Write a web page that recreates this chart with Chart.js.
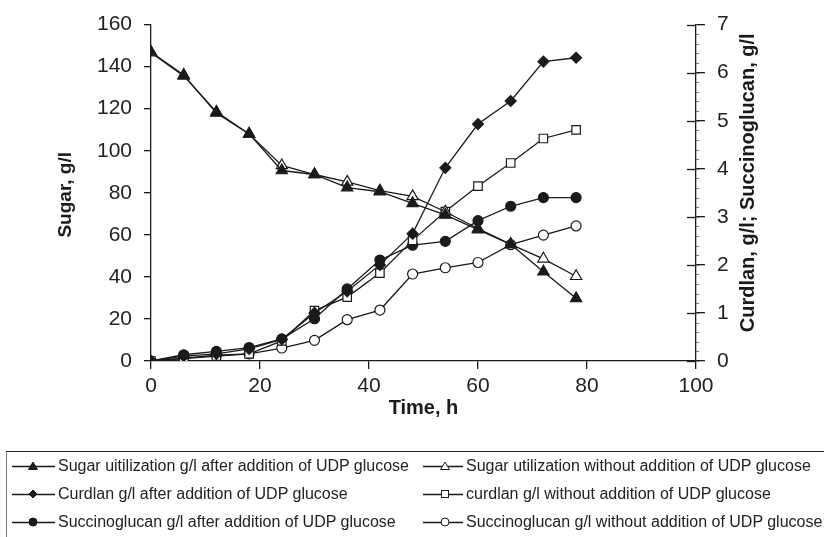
<!DOCTYPE html>
<html>
<head>
<meta charset="utf-8">
<script src="https://cdn.jsdelivr.net/npm/chart.js@4/dist/chart.umd.min.js"></script>
<style>
  html, body { margin: 0; padding: 0; background: #fff; overflow: hidden; }
  #wrap { position: relative; width: 824px; height: 537px; }
  #legend { position: absolute; left: 6px; top: 451px; width: 840px; height: 100px;
            border: 1px solid #777; border-top: 1.5px solid #222;
            font: 16px "Liberation Sans", Arial, sans-serif; color: #222; }
  .item { position: absolute; height: 20px; display: flex; align-items: center; white-space: nowrap; }
  .item svg { margin-right: 3px; }
</style>
</head>
<body>
<div id="wrap">
  <canvas id="myChart" width="824" height="537"></canvas>
  <div id="legend"></div>
</div>
<script>
// time points, h
var hours = [0, 6, 12, 18, 24, 30, 36, 42, 48, 54, 60, 66, 72, 78];

// left axis (sugar, g/l)
var sugarWithUdp    = [147, 136, 118, 108, 90.6, 88.7, 82.5, 80.5, 75, 69.5, 62.5, 55.5, 42.5, 29.8];
var sugarWithoutUdp = [146.6, 135.6, 118.5, 108, 93, 88.7, 85.2, 81, 78.3, 71, 63, 55.5, 48.6, 40.3];

// right axis (curdlan / succinoglucan, g/l)
var curdlanWithUdp    = [0, 0.1, 0.15, 0.25, 0.45, 1.0, 1.45, 2.0, 2.65, 4.02, 4.93, 5.41, 6.23, 6.31];
var curdlanWithoutUdp = [0, 0.05, 0.1, 0.15, 0.42, 1.05, 1.33, 1.83, 2.51, 3.11, 3.64, 4.12, 4.63, 4.81];
var succWithUdp       = [0, 0.13, 0.2, 0.28, 0.46, 0.88, 1.5, 2.1, 2.41, 2.49, 2.92, 3.22, 3.4, 3.4];
var succWithoutUdp    = [0, 0.06, 0.12, 0.15, 0.27, 0.43, 0.86, 1.06, 1.81, 1.94, 2.05, 2.42, 2.62, 2.81];

var xTicks = [0, 20, 40, 60, 80, 100];
var yTicks = [0, 20, 40, 60, 80, 100, 120, 140, 160];
var y2Ticks = [0, 1, 2, 3, 4, 5, 6, 7];

var xTitle = "Time, h";
var yTitle = "Sugar, g/l";
var y2Title = "Curdlan, g/l; Succinoglucan, g/l";

var ink = "#1a1a1a";
var fontFam = '"Liberation Sans", Arial, sans-serif';

function pts(vals) {
  return hours.map(function(h, i) { return { x: h, y: vals[i] }; });
}

function serie(label, vals, axis, style, filled, radius) {
  return {
    label: label,
    data: pts(vals),
    yAxisID: axis,
    borderColor: ink,
    borderWidth: 1.3,
    tension: 0,
    fill: false,
    pointStyle: style,
    pointRadius: radius,
    pointHoverRadius: radius,
    pointBackgroundColor: filled ? ink : "#fff",
    pointBorderColor: ink,
    pointBorderWidth: 1.2,
    _filled: filled
  };
}

var datasets = [
  serie("Sugar uitilization g/l after addition of UDP glucose", sugarWithUdp, "y", "triangle", true, 6.5),
  serie("Sugar utilization without addition of UDP glucose", sugarWithoutUdp, "y", "triangle", false, 6.5),
  serie("Curdlan g/l after addition of UDP glucose", curdlanWithUdp, "y2", "rectRot", true, 5.5),
  serie("curdlan g/l without addition of UDP glucose", curdlanWithoutUdp, "y2", "rect", false, 6),
  serie("Succinoglucan g/l after addition of UDP glucose", succWithUdp, "y2", "circle", true, 5),
  serie("Succinoglucan g/l without addition of UDP glucose", succWithoutUdp, "y2", "circle", false, 5)
];

function tickList(list) {
  return function(scale) {
    scale.ticks = list.map(function(v) { return { value: v }; });
  };
}

// titles + inner half of right ticks
var extras = {
  id: "extras",
  afterDraw: function(chart) {
    var ctx = chart.ctx, a = chart.chartArea, r = chart.scales.y2;
    ctx.save();
    ctx.strokeStyle = ink;
    ctx.lineWidth = 1.3;
    r.ticks.forEach(function(t) {
      var py = Math.round(r.getPixelForValue(t.value)) + 0.5;
      ctx.beginPath();
      ctx.moveTo(a.right - 9, py);
      ctx.lineTo(a.right, py);
      ctx.stroke();
    });
    // minor ticks on right axis
    ctx.lineWidth = 1;
    ctx.strokeStyle = "#777";
    for (var v = 0; v < 7; v += 0.2) {
      var my = Math.round(r.getPixelForValue(v)) + 0.5;
      ctx.beginPath();
      ctx.moveTo(a.right, my);
      ctx.lineTo(a.right + 3, my);
      ctx.stroke();
    }

    ctx.fillStyle = ink;
    ctx.textAlign = "center";
    ctx.textBaseline = "middle";
    ctx.font = "bold 19px " + fontFam;
    ctx.save();
    ctx.translate(66, (a.top + a.bottom) / 2 + 2);
    ctx.rotate(-Math.PI / 2);
    ctx.fillText(yTitle, 0, 0);
    ctx.restore();

    ctx.font = "bold 20px " + fontFam;
    ctx.save();
    ctx.translate(a.right + 52, (a.top + a.bottom) / 2 - 10);
    ctx.rotate(-Math.PI / 2);
    ctx.fillText(y2Title, 0, 0);
    ctx.restore();

    ctx.fillText(xTitle, (a.left + a.right) / 2, a.bottom + 47);
    ctx.restore();
  }
};

var axisGrid = function(len) {
  return { display: true, drawOnChartArea: false, drawTicks: true, tickLength: len, color: ink, lineWidth: 1.3 };
};
var tickFont = { family: fontFam, size: 21 };

var chart = new Chart(document.getElementById("myChart").getContext("2d"), {
  type: "line",
  data: { datasets: datasets },
  options: {
    responsive: false,
    animation: false,
    layout: { padding: { top: 19, left: 0, right: 0, bottom: 0 } },
    plugins: { legend: { display: false }, tooltip: { enabled: false } },
    scales: {
      x: {
        type: "linear", min: 0, max: 100,
        afterBuildTicks: tickList(xTicks),
        afterFit: function(s) { s.height = 176; },
        grid: axisGrid(8),
        border: { color: ink, width: 1.3 },
        ticks: { font: tickFont, color: "#222", padding: 5, maxRotation: 0 }
      },
      y: {
        position: "left", min: 0, max: 160,
        afterBuildTicks: tickList(yTicks),
        afterFit: function(s) { s.width = 151; },
        grid: axisGrid(7),
        border: { color: ink, width: 1.3 },
        ticks: { font: tickFont, color: "#222", padding: 12 }
      },
      y2: {
        position: "right", min: 0, max: 7,
        afterBuildTicks: tickList(y2Ticks),
        afterFit: function(s) { s.width = 128; },
        grid: axisGrid(9),
        border: { color: ink, width: 1.3 },
        ticks: { font: tickFont, color: "#222", padding: 12 }
      }
    }
  },
  plugins: [extras]
});

// html legend: line with marker, then label
function markerSvg(ds, w, cx) {
  var m = "", f = ds._filled ? ink : "#fff";
  if (ds.pointStyle == "triangle") m = '<polygon points="' + cx + ',6 ' + (cx - 4.5) + ',13.5 ' + (cx + 4.5) + ',13.5" fill="' + f + '" stroke="' + ink + '"/>';
  else if (ds.pointStyle == "rectRot") m = '<polygon points="' + cx + ',6 ' + (cx + 4) + ',10 ' + cx + ',14 ' + (cx - 4) + ',10" fill="' + f + '" stroke="' + ink + '"/>';
  else if (ds.pointStyle == "rect") m = '<rect x="' + (cx - 3.5) + '" y="6.5" width="7" height="7" fill="' + f + '" stroke="' + ink + '"/>';
  else m = '<circle cx="' + cx + '" cy="10" r="4" fill="' + f + '" stroke="' + ink + '"/>';
  return '<svg width="' + w + '" height="20"><line x1="0" y1="10.5" x2="' + w + '" y2="10.5" stroke="' + ink + '" stroke-width="1.3"/>' + m + '</svg>';
}

var legend = document.getElementById("legend");
var rowsY = [4, 32, 60];
datasets.forEach(function(ds, i) {
  var col = i % 2, row = Math.floor(i / 2);
  var div = document.createElement("div");
  div.className = "item";
  div.style.top = rowsY[row] + "px";
  div.style.left = (col == 0 ? 5 : 416) + "px";
  var w = col == 0 ? 43 : 40;
  div.innerHTML = markerSvg(ds, w, col == 0 ? 21 : 22) + "<span>" + ds.label + "</span>";
  legend.appendChild(div);
});
</script>
</body>
</html>
